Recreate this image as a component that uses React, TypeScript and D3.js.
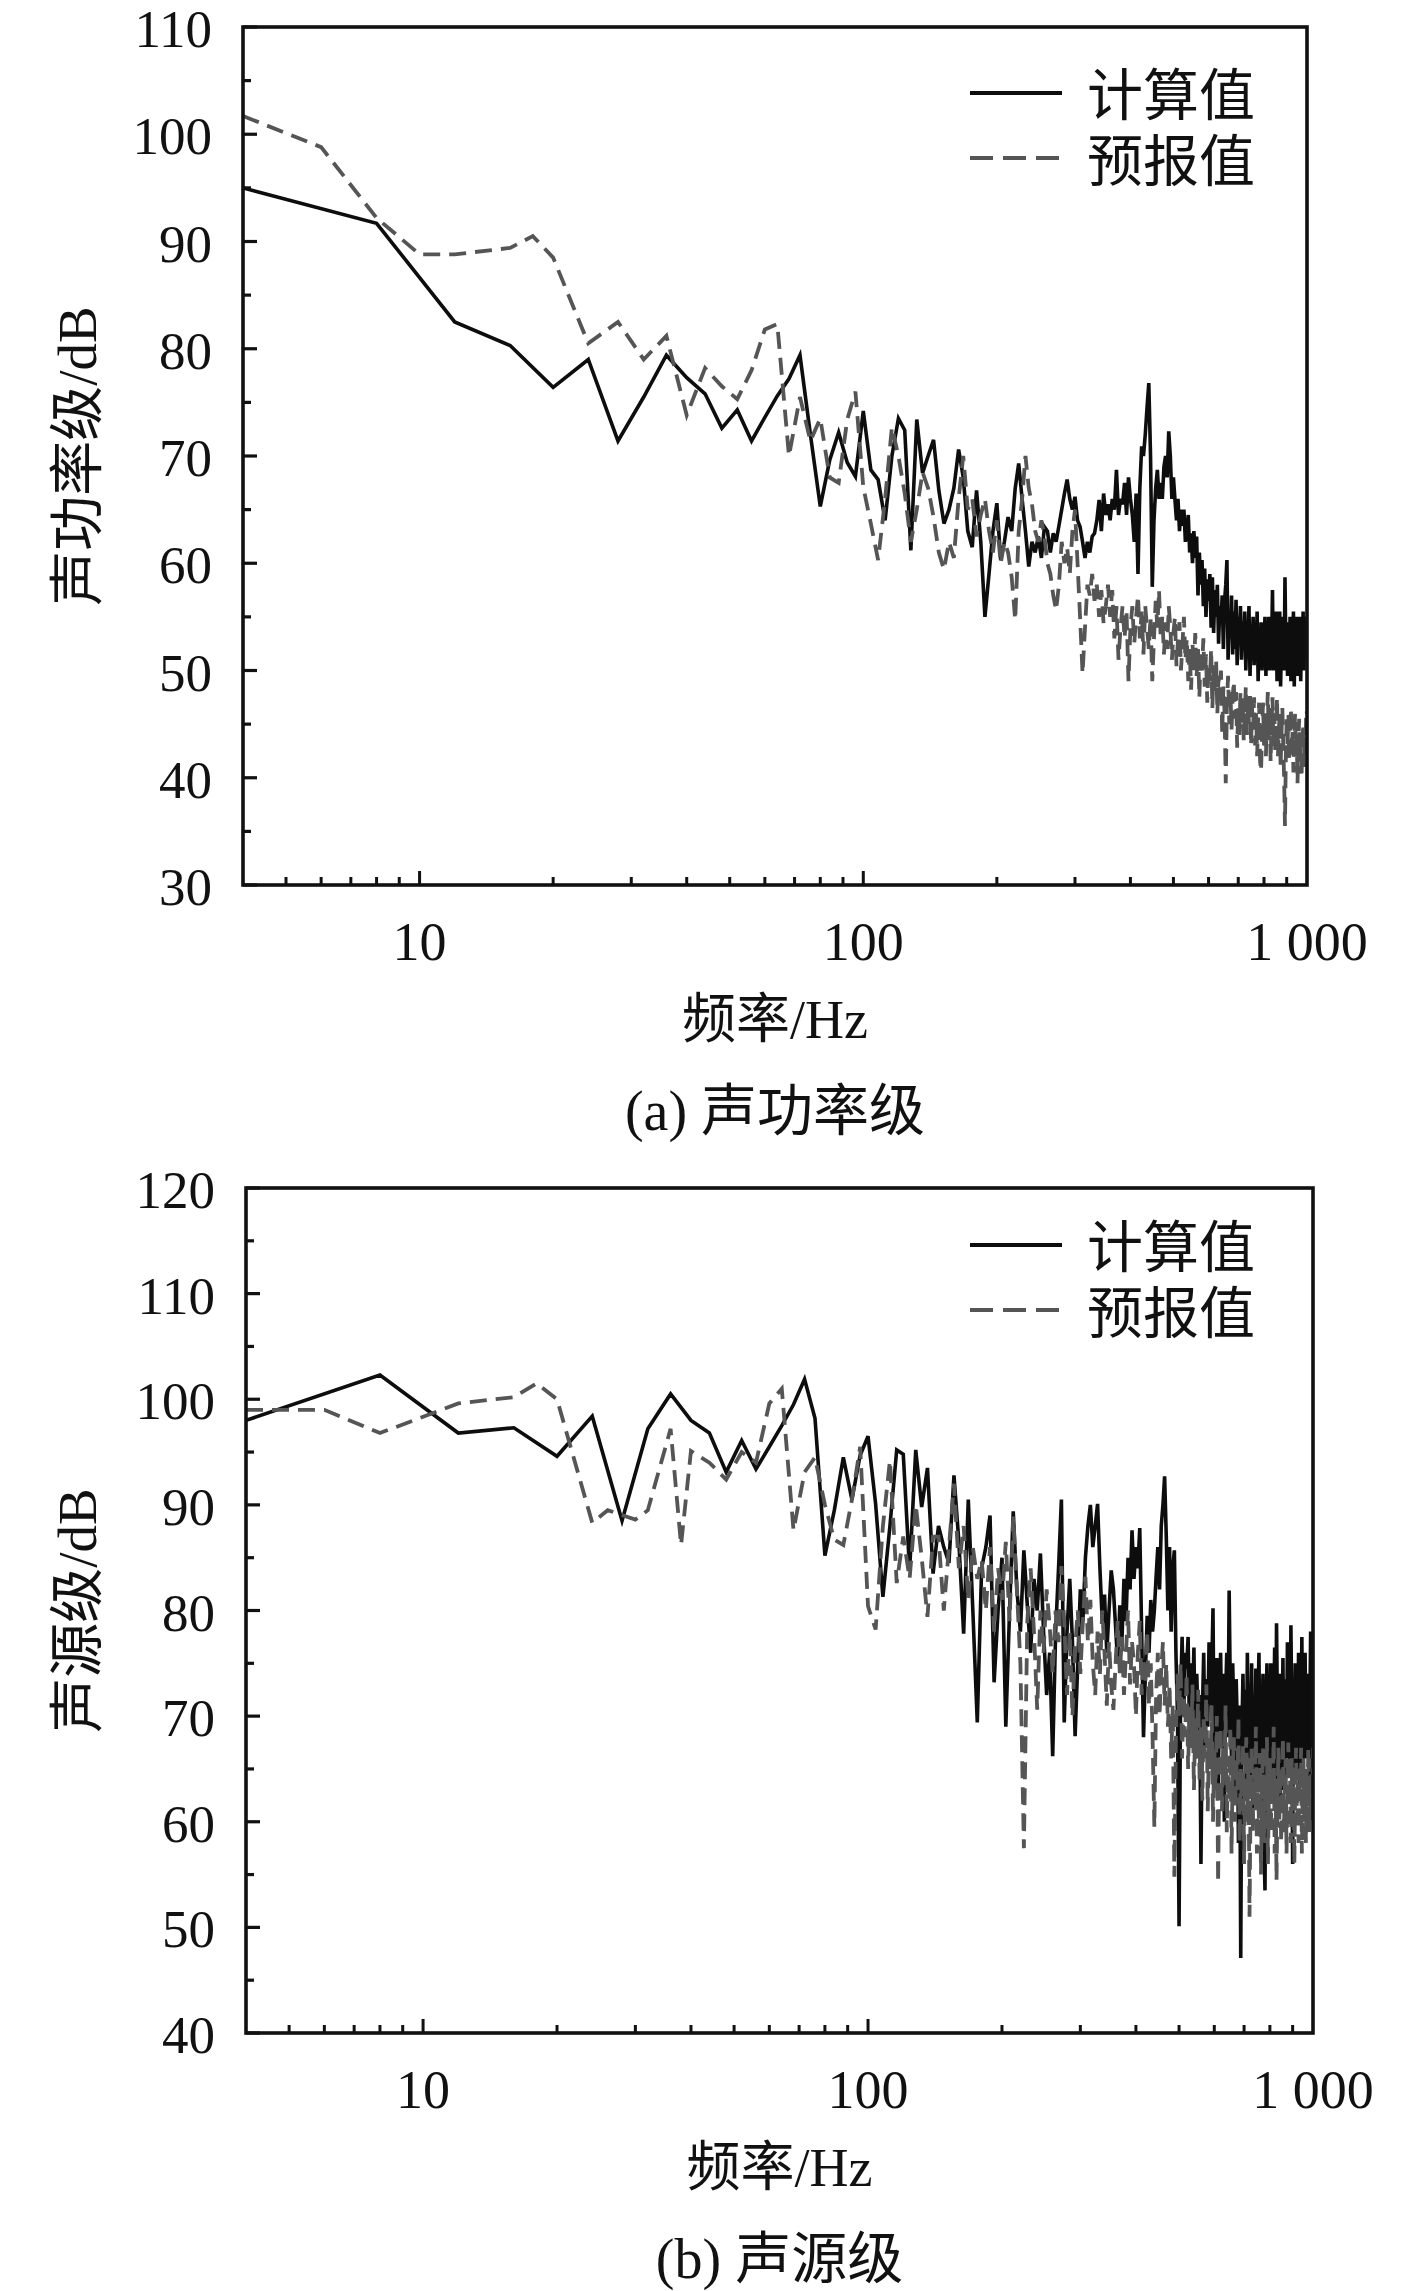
import React from "react";
import * as d3 from "d3";

const W = 1417;
const H = 2291;
const BIN = 4; // FFT bin width, Hz

const LATIN = "'Liberation Serif', 'Times New Roman', Times, serif";
const MIXED = "'Liberation Serif', 'Noto Sans CJK SC', serif";

// (a) 声功率级 — 计算值, bins 4..1000 Hz
const powerCalc = [
  95, 91.7, 82.5, 80.3, 76.4, 79, 71.4, 75.5, 79.4, 77.3,
  75.8, 72.6, 74.3, 71.4, 73.6, 75.6, 77.2, 79.4, 72, 65.3,
  69.6, 72.2, 69.4, 68.1, 74.2, 68.7, 67.8, 64, 70, 73.5,
  72.4, 61.2, 73.4, 68.4, 70, 71.5, 66.8, 63.7, 65, 67,
  70.6, 68, 63, 61.5, 66.8, 62, 55, 59, 63, 65.6,
  60.3, 62, 64.3, 63, 67, 69.3, 66, 63, 59.7, 62,
  61, 62.5, 60.5, 63.4, 63, 61, 62.8, 62, 63.5, 65,
  66.5, 67.8, 66, 65, 66.2, 64, 63.4, 62, 60.5, 62,
  61, 62.5, 62.8, 64, 65.9, 63, 66.5, 64.5, 65.5, 64,
  66, 65, 68.7, 64.5, 66, 65.5, 67.5, 64.5, 68, 66,
  64.5, 62, 66.5, 59, 67, 70.9, 70, 72, 74.5, 76.8,
  70, 57.8, 64, 67, 68.7, 66, 67.5, 66, 69, 70,
  68, 72.3, 70, 66, 68, 65.9, 64, 66, 63, 65,
  63.5, 65, 62, 63, 64.5, 61, 62.8, 60, 63, 60.5,
  62.5, 57, 61, 58, 60.3, 56, 59.5, 55, 58.5, 56.5,
  59, 54, 58.7, 53.5, 57.5, 55, 58, 52.5, 56, 54.5,
  57, 52, 56.5, 58, 60.3, 51, 55, 53, 57, 51.5,
  55.5, 52, 56.6, 50.5, 55, 53, 56, 51, 54.5, 52,
  55.5, 50, 54, 52.5, 56, 49.5, 54, 51.5, 55, 50.5,
  54.5, 52, 55.5, 49, 53.5, 51, 54.5, 50, 53, 52,
  55, 49.5, 53.5, 51, 55, 50, 54, 52, 57.5, 50,
  54, 51, 55.5, 49, 53, 52, 55.5, 48.5, 53, 51.5,
  55, 50, 58.7, 52, 54.5, 49.5, 53.5, 51, 55, 49,
  53, 51, 55.5, 48.5, 54, 51.5, 55, 49.5, 53.5, 52,
  55, 49, 54, 51, 55.5, 50, 53.5, 51.5, 55, 52,
];

// (a) 预报值 — irregular points below 100 Hz, then 4 Hz bins from 100 Hz
const powerPredLowFreq = [4, 6, 8, 10, 12, 16, 18, 20, 24, 28, 32, 36, 40, 44, 48, 52, 56, 60, 64, 68, 72, 76, 80, 84, 88, 92, 96];
const powerPredLow = [101.7, 98.8, 92.2, 88.8, 88.8, 89.4, 90.5, 88.5, 80.5, 82.5, 79, 81.2, 73.8, 78.2, 76.5, 75.3, 78, 81.8, 82.3, 70, 75.5, 71.4, 73.5, 68, 67.5, 73.4, 76];
const powerPredHigh = [
  67.1, 63.7, 60.3, 66, 72.7, 70, 66.5, 62, 65, 68.5,
  67, 64.3, 61, 59.4, 62, 60.5, 66, 70, 65, 66,
  62.5, 64.5, 66, 63, 61, 64, 60, 62, 61, 58.7,
  54.7, 63, 66, 70, 67, 65.5, 63, 62, 64, 62.5,
  60, 59, 57, 55.6, 58, 62, 60, 61.5, 59, 63,
  65, 60, 55, 49.7, 54, 58, 57, 59, 56.5, 58,
  55, 57.5, 54.4, 56, 58, 55, 57.5, 53, 56, 51,
  54, 56, 53, 55.5, 49, 54, 56, 52.5, 55, 57,
  53, 55.5, 51.5, 56, 54, 52, 55, 49, 53, 56.5,
  54, 57.5, 53, 55, 51.5, 54.5, 52, 56, 54, 51,
  53.5, 55, 50.4, 53, 54.5, 50, 52.5, 55, 51, 53,
  49, 52, 48.2, 52.5, 50, 53.5, 49.5, 52, 47.5, 51.5,
  50, 53, 48.5, 51.5, 47, 50.5, 49, 52, 46.5, 50.5,
  48, 51, 46, 49.5, 47.5, 50, 44, 48.5, 46, 39.5,
  47, 49.5, 45, 48, 44.5, 47.5, 49, 45.5, 48, 42.8,
  46.5, 44, 48, 45, 47.5, 43.5, 46, 48.5, 44, 47,
  45, 48, 43, 46.5, 44.5, 47.5, 43, 46, 42, 45.5,
  47, 41.5, 40.6, 44.5, 47, 43, 46, 42, 45.5, 48,
  43.5, 46.5, 41.5, 45, 47.5, 43, 46, 42.5, 45, 47.5,
  42, 44.5, 46, 41, 44, 46.5, 43, 40, 35.5, 42,
  45.5, 43, 46, 41.5, 44, 46.5, 42, 44.5, 40.5, 43.5,
  46, 42, 44, 39.5, 43, 45.5, 41.5, 44, 40, 43,
  45, 41, 44, 42.5, 46.3, 46,
];

// (b) 声源级 — 计算值, bins 4..1000 Hz
const sourceCalc = [
  98, 102.3, 96.8, 97.3, 94.6, 98.4, 88.5, 97.2, 100.5, 98,
  96.8, 93.1, 96.1, 93.4, 95.5, 97.5, 99.5, 101.9, 98.2, 85.2,
  89.5, 94.5, 90.5, 94.7, 96.5, 90.1, 81.3, 88, 95.2, 94.8,
  83.8, 95.2, 89.8, 93.5, 83.5, 88, 86, 84.5, 92.8, 86.5,
  77.8, 90.5, 80, 69.4, 84, 86, 89, 73.2, 80, 85,
  69, 80, 89.4, 82, 78, 85.7, 80.5, 76, 83, 80,
  85.4, 78, 72, 76, 66.2, 78, 84, 90.5, 69.4, 78,
  83, 77, 68.1, 75, 82, 79, 85, 88, 90, 86,
  88, 90.1, 84, 79, 81.5, 76, 80, 83.8, 82, 78.5,
  75, 80.5, 77, 83, 79, 85, 82, 87.6, 83, 86,
  84, 87.8, 78, 68, 74, 79.5, 76, 81, 78, 80,
  83.2, 86, 82, 88, 90, 92.7, 87, 80, 86, 78,
  84, 85.7, 76, 70, 50.1, 72, 77.5, 70, 76, 74.5,
  77.5, 68, 75, 71, 76.5, 66, 74, 69, 72, 56,
  70, 76, 67, 73.5, 69, 77, 71, 74, 80.2, 65,
  72, 75.5, 63, 71, 76, 68, 74, 60, 71.5, 76,
  68, 81.9, 72, 66, 75, 70, 62, 73.5, 69, 58,
  71, 47.1, 68, 74, 66, 72.5, 62, 76, 69, 73,
  64, 75, 60, 72, 67, 74.5, 63, 71, 76, 65,
  72, 68, 74, 58, 53.5, 70, 75, 66, 72.5, 68,
  75, 62, 73, 69, 76.5, 64, 78.8, 70, 66, 74,
  61, 72, 68, 75.5, 63, 71, 73.5, 66, 77, 69,
  72, 65, 78.6, 70, 56, 73, 68, 75, 64, 71.5,
  67, 76, 62, 72, 69, 77.5, 65, 73, 70, 76,
  66, 72.5, 68, 74, 64, 71, 78, 67, 72, 70,
];

// (b) 预报值
const sourcePredLowFreq = [4, 6, 8, 12, 16, 18, 20, 24, 26, 30, 32, 36, 38, 40, 44, 48, 52, 56, 60, 64, 68, 72, 76, 80, 84, 88, 92, 96];
const sourcePredLow = [99, 99, 96.8, 99.6, 100.2, 101.5, 100, 88.3, 89.5, 88.6, 89.5, 97.2, 86.2, 95.1, 94, 92.4, 95, 94, 99.6, 101, 87.6, 93.1, 94.5, 90, 86.7, 86.2, 90.5, 95.5];
const sourcePredHigh = [
  80.4, 78.2, 88, 94.2, 82.6, 87, 83, 90, 85, 79.4,
  87, 87, 80, 86, 92, 84, 88, 81, 86, 83,
  84.8, 80, 86, 78, 84, 81, 86.5, 79, 88.9, 82,
  75, 57.5, 79, 84, 78, 70.6, 80, 76, 82, 78.5,
  74, 80, 77, 84.2, 79, 72, 78, 70, 76.5, 80,
  74, 79, 83.2, 77, 81, 75, 72, 78, 74, 80,
  76, 71, 77, 73, 70.6, 75, 79, 74, 77.5, 72,
  76, 80, 73, 77, 75, 70, 76, 79, 72, 75.5,
  73, 78, 71, 75, 68, 59.5, 72, 76, 70, 74.5,
  77, 71, 75, 69, 73, 66, 71, 54.8, 68, 74,
  70, 75, 66, 72, 68, 74, 65, 71, 67, 73,
  63, 70, 66, 72.5, 64, 69, 62, 70, 66, 73,
  61, 68, 65, 71, 60, 67, 63, 70, 54.2, 66,
  69, 61, 67, 64, 71, 59, 66, 62, 69, 57,
  65, 68, 60, 66, 63, 70, 58, 65, 61, 67.5,
  56, 64, 68, 60, 66, 51, 62, 67, 59, 65,
  62, 69, 57, 64, 60, 66.5, 55, 63, 67, 58,
  64, 61, 68, 56, 63, 66, 59, 65, 62, 69,
  57, 64, 54.5, 62, 67, 60, 65, 58, 64, 68,
  59, 63, 66, 57, 62, 67.5, 60, 64, 58, 66,
  61, 65, 56, 63, 67, 60, 64, 58, 65, 62,
  67, 57, 63, 66, 60, 64, 58, 65, 62, 67,
  59, 64, 61, 66, 60, 64,
];

type Pt = [number, number];

const binned = (vals: number[], start: number): Pt[] => vals.map((v, i) => [start + BIN * i, v]);
const paired = (fs: number[], vs: number[]): Pt[] => fs.map((f, i) => [f, vs[i]]);

interface PanelProps {
  id: string;
  left: number;
  right: number;
  top: number;
  bottom: number;
  yMin: number;
  yMax: number;
  yTitle: string;
  caption: string;
  calc: Pt[];
  pred: Pt[];
  legendTop: number;
}

function Panel({ id, left, right, top, bottom, yMin, yMax, yTitle, caption, calc, pred, legendTop }: PanelProps) {
  const x = d3.scaleLog().domain([4, 1000]).range([left, right]);
  const y = d3.scaleLinear().domain([yMin, yMax]).range([bottom, top]);
  const line = d3.line<Pt>().x((d) => x(d[0])).y((d) => y(d[1]));

  const xTicks = x.ticks().filter((t) => t > 4 && t < 1000);
  const xLabels = [10, 100, 1000];
  const yMajor = d3.range(yMin, yMax + 1, 10);
  const yMinor = d3.range(yMin + 5, yMax, 10);
  const axisColor = "#111";

  return (
    <g>
      <defs>
        <clipPath id={id}>
          <rect x={left} y={top} width={right - left} height={bottom - top} />
        </clipPath>
      </defs>

      <g clipPath={`url(#${id})`}>
        <path d={line(calc) ?? ""} fill="none" stroke="#0d0d0d" strokeWidth={3.6} />
        <path d={line(pred) ?? ""} fill="none" stroke="#555" strokeWidth={3.8} strokeDasharray="17,9" />
      </g>

      <rect x={left} y={top} width={right - left} height={bottom - top} fill="none" stroke={axisColor} strokeWidth={3.6} />

      {yMajor.map((v) => (
        <g key={"ym" + v}>
          <line x1={left} x2={left + 14} y1={y(v)} y2={y(v)} stroke={axisColor} strokeWidth={3.2} />
          <text x={left - 31} y={y(v) + 20} textAnchor="end" fontFamily={LATIN} fontSize={53} fill="#111">
            {v}
          </text>
        </g>
      ))}
      {yMinor.map((v) => (
        <line key={"yn" + v} x1={left} x2={left + 8} y1={y(v)} y2={y(v)} stroke={axisColor} strokeWidth={3.2} />
      ))}

      {xTicks.map((t) => {
        const major = xLabels.includes(t);
        return (
          <line key={"xt" + t} x1={x(t)} x2={x(t)} y1={bottom} y2={bottom - (major ? 14 : 8)} stroke={axisColor} strokeWidth={3} />
        );
      })}
      {xLabels.map((t) => (
        <text key={"xl" + t} x={x(t)} y={bottom + 75} textAnchor="middle" fontFamily={LATIN} fontSize={54} fill="#111">
          {t === 1000 ? "1 000" : t}
        </text>
      ))}

      <text x={(left + right) / 2} y={bottom + 153} textAnchor="middle" fontFamily={MIXED} fontSize={54} fill="#111">
        频率/Hz
      </text>
      <text x={(left + right) / 2} y={bottom + 245} textAnchor="middle" fontFamily={MIXED} fontSize={56} fill="#111">
        {caption}
      </text>
      <text
        transform={`translate(77,${(top + bottom) / 2}) rotate(-90)`}
        textAnchor="middle"
        dominantBaseline="central"
        fontFamily={MIXED}
        fontSize={55}
        fill="#111"
      >
        {yTitle}
      </text>

      <g>
        <line x1={970} x2={1062} y1={legendTop} y2={legendTop} stroke="#0d0d0d" strokeWidth={4} />
        <text x={1087} y={legendTop + 3} dominantBaseline="central" fontFamily={MIXED} fontSize={56} fill="#111">
          计算值
        </text>
        <line x1={970} x2={1062} y1={legendTop + 65} y2={legendTop + 65} stroke="#555" strokeWidth={4} strokeDasharray="23,10" />
        <text x={1087} y={legendTop + 69} dominantBaseline="central" fontFamily={MIXED} fontSize={56} fill="#111">
          预报值
        </text>
      </g>
    </g>
  );
}

export default function App() {
  const powerCalcPts = binned(powerCalc, BIN);
  const powerPredPts = paired(powerPredLowFreq, powerPredLow).concat(binned(powerPredHigh, 100));
  const sourceCalcPts = binned(sourceCalc, BIN);
  const sourcePredPts = paired(sourcePredLowFreq, sourcePredLow).concat(binned(sourcePredHigh, 100));

  return (
    <div>
      <style>{`body{margin:0;background:#fff}`}</style>
      <svg width={W} height={H} viewBox={`0 0 ${W} ${H}`} style={{ display: "block", background: "#fff" }}>
        <Panel
          id="clip-a"
          left={243}
          right={1307}
          top={27}
          bottom={885}
          yMin={30}
          yMax={110}
          yTitle="声功率级/dB"
          caption="(a) 声功率级"
          calc={powerCalcPts}
          pred={powerPredPts}
          legendTop={93}
        />
        <Panel
          id="clip-b"
          left={246}
          right={1313}
          top={1188}
          bottom={2033}
          yMin={40}
          yMax={120}
          yTitle="声源级/dB"
          caption="(b) 声源级"
          calc={sourceCalcPts}
          pred={sourcePredPts}
          legendTop={1245}
        />
      </svg>
    </div>
  );
}
